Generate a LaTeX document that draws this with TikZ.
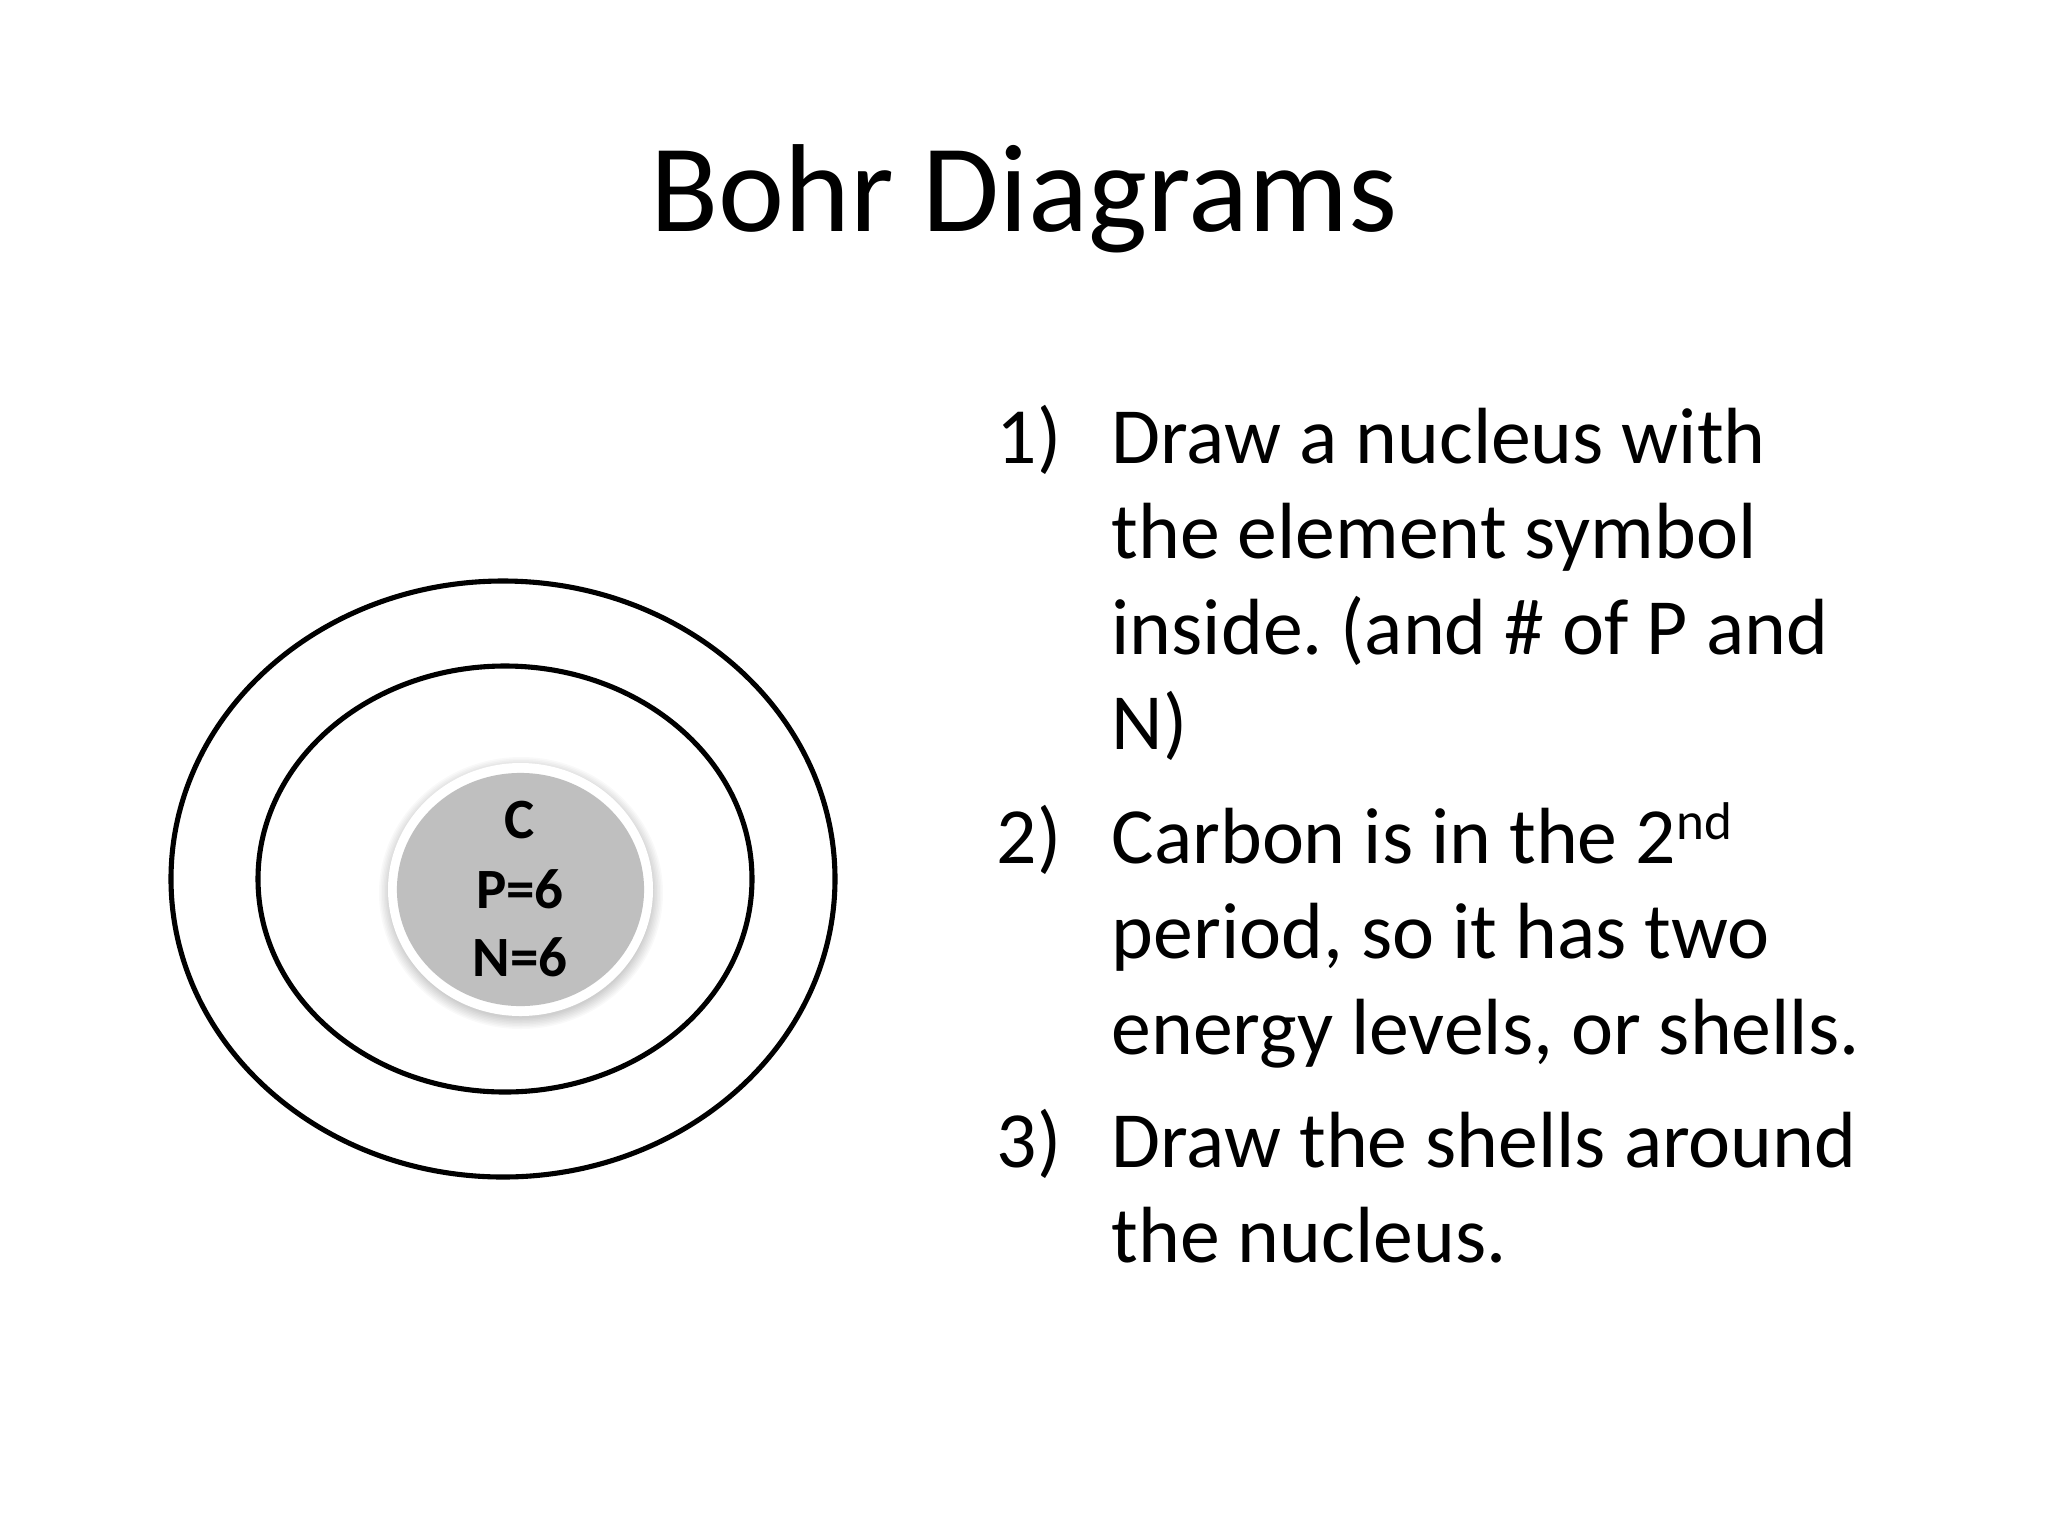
\documentclass[tikz,border=0pt]{standalone}
\usepackage{fontspec}
\setmainfont{Carlito}
\usetikzlibrary{shapes.geometric}
\frenchspacing
\begin{document}
\begin{tikzpicture}[x=0.01cm,y=-0.01cm,
  shell/.style={draw=black,line width=1.45pt},
  bodytext/.style={anchor=base west,inner sep=0pt,font=\fontsize{22.66}{27}\selectfont},
  nuctext/.style={anchor=base,inner sep=0pt,font=\fontsize{16.2}{19}\selectfont\bfseries}]
\useasboundingbox[fill=white] (0,0) rectangle (2048,1536);
% title
\node[anchor=base,inner sep=0pt,font=\fontsize{35.6}{42}\selectfont] (title) at (1024,231) {Bohr Diagrams};
% shells
\draw[shell] (503,879) ellipse [x radius=332,y radius=298];
\draw[shell] (505,879) ellipse [x radius=247,y radius=213];
% nucleus shadow
\foreach \i in {1,...,8}{
  \fill[black,opacity=0.025] (521,893) ellipse [x radius=130+\i*1.5,y radius=124+\i*1.5];
}
\fill[white] (520.5,889.5) ellipse [x radius=132.5,y radius=126.5];
\node[ellipse,fill={rgb,255:red,191;green,191;blue,191},minimum width=2.47cm,minimum height=2.33cm,inner sep=0pt] (nucleus) at (520.5,889.5) {};
\node[nuctext] (c) at (520,838) {C};
\node[nuctext] (p) at (520,908) {P=6};
\node[nuctext] (n) at (520,976) {N=6};
% list
\node[bodytext] (n1) at (996,463) {1)};
\node[bodytext] (l1a) at (1111,463) {Draw a nucleus with};
\node[bodytext] (l1b) at (1111,558.5) {the element symbol};
\node[bodytext] (l1c) at (1111,654) {inside. (and \# of P and};
\node[bodytext] (l1d) at (1111,749.5) {N)};
\node[bodytext] (n2) at (996,863) {2)};
\node[bodytext] (l2a) at (1111,863) {Carbon is in the 2\raisebox{0.3em}{\fontsize{15.1}{18}\selectfont nd}};
\node[bodytext] (l2b) at (1111,958.5) {period, so it has two};
\node[bodytext] (l2c) at (1111,1054) {energy levels, or shells.};
\node[bodytext] (n3) at (996,1167) {3)};
\node[bodytext] (l3a) at (1111,1167) {Draw the shells around};
\node[bodytext] (l3b) at (1111,1262.5) {the nucleus.};
\end{tikzpicture}
\end{document}
